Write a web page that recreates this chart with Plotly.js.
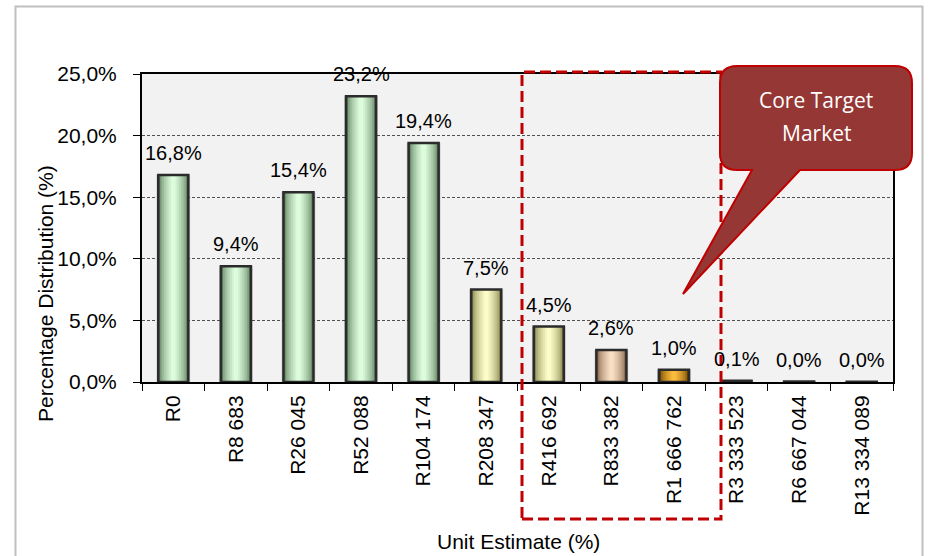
<!DOCTYPE html>
<html>
<head>
<meta charset="utf-8">
<script src="https://cdn.plot.ly/plotly-3.0.1.min.js"></script>
<style>
  html, body { margin: 0; padding: 0; background: #ffffff; }
  #chart { width: 932px; height: 556px; }
</style>
</head>
<body>
<div id="chart"></div>
<script>
// Income bands (unit estimate) and the share of units in each band, in percent
const categories = ['R0', 'R8 683', 'R26 045', 'R52 088', 'R104 174', 'R208 347',
                    'R416 692', 'R833 382', 'R1 666 762', 'R3 333 523', 'R6 667 044', 'R13 334 089'];
const shares = [16.8, 9.4, 15.4, 23.2, 19.4, 7.5, 4.5, 2.6, 1.0, 0.1, 0.04, 0.03];

// Colour family of each band
const bandTone = ['green', 'green', 'green', 'green', 'green', 'yellow',
                  'yellow', 'peach', 'orange', 'grey', 'grey', 'grey'];

// Each family: edge shade and centre shade of the cylinder look
const palettes = {
  green:  ['#5f805f', '#dcfcdc'],
  yellow: ['#84844a', '#fcfcc8'],
  peach:  ['#86644a', '#f8dec2'],
  orange: ['#6e4400', '#fbbb3c'],
  grey:   ['#383838', '#5a5a5a']
};
const LAYERS = 8;
const layerWidths = Array.from({ length: LAYERS }, (_, k) => 0.47 - k * (0.40 / (LAYERS - 1)));

function hexToRgb(h) {
  const n = parseInt(h.slice(1), 16);
  return [(n >> 16) & 255, (n >> 8) & 255, n & 255];
}
function mix(a, b, t) {
  const A = hexToRgb(a), B = hexToRgb(b);
  const c = A.map((v, i) => Math.round(v + (B[i] - v) * t));
  return 'rgb(' + c.join(',') + ')';
}

// Plot-area geometry in pixels (used for the decorations drawn in paper space)
const W = 932, H = 556;
const PL = 142, PR = 893, PT = 74, PB = 382;
const px = x => (x - PL) / (PR - PL);
const py = y => (PB - y) / (PB - PT);

const traces = [];

// soft shadow behind each bar
traces.push({
  type: 'bar', x: categories, y: shares, width: 0.54,
  marker: { color: 'rgba(0,0,0,0.16)', line: { width: 0 } },
  hoverinfo: 'skip', showlegend: false
});

// shaded body layers, widest (darkest) first
layerWidths.forEach((w, k) => {
  const t = Math.pow(k / (LAYERS - 1), 0.6);
  traces.push({
    type: 'bar', x: categories, y: shares, width: w,
    marker: {
      color: categories.map((c, i) => mix(palettes[bandTone[i]][0], palettes[bandTone[i]][1], t)),
      line: { width: 0 }
    },
    hoverinfo: 'skip', showlegend: false
  });
});

// dark outline on top
traces.push({
  type: 'bar', x: categories, y: shares, width: 0.48,
  marker: { color: 'rgba(0,0,0,0)', line: { color: '#2b2b2b', width: 2.5 } },
  hoverinfo: 'skip', showlegend: false
});

const fmtPct = v => v.toFixed(1).replace('.', ',') + '%';

// value labels above the bars
const valueLabels = categories.map((c, i) => ({
  xref: 'x', yref: 'y', x: c, y: shares[i],
  text: fmtPct(shares[i]), showarrow: false,
  yanchor: 'bottom', yshift: 9,
  font: { family: 'Liberation Sans, Arial, sans-serif', size: 20, color: '#000000' }
}));

// callout bubble outline (rounded box with a pointer), built in pixel space
const calloutPts = [
  ['M', 737, 66], ['L', 895, 66], ['Q', 912, 66, 912, 83], ['L', 912, 153],
  ['Q', 912, 170, 895, 170], ['L', 800, 170], ['L', 683, 294], ['L', 752, 170],
  ['L', 737, 170], ['Q', 720, 170, 720, 153], ['L', 720, 83], ['Q', 720, 66, 737, 66]
];
const calloutPath = calloutPts.map(p => {
  const cmd = p[0];
  const nums = [];
  for (let j = 1; j < p.length; j += 2) nums.push(px(p[j]) + ',' + py(p[j + 1]));
  return cmd + nums.join(' ');
}).join(' ') + ' Z';

const shapes = [
  // outer frame of the chart
  { type: 'rect', xref: 'paper', yref: 'paper',
    x0: px(15.5), x1: px(922.5), y0: py(575), y1: py(6.5),
    line: { color: '#bfbfbf', width: 2 }, fillcolor: 'rgba(0,0,0,0)', layer: 'below' },
  // dashed box around the core bands
  { type: 'rect', xref: 'paper', yref: 'paper',
    x0: px(522), x1: px(721), y0: py(519), y1: py(72),
    line: { color: '#c00000', width: 3, dash: '11px,5px' }, fillcolor: 'rgba(0,0,0,0)', layer: 'above' },
  // callout bubble
  { type: 'path', xref: 'paper', yref: 'paper', path: calloutPath,
    fillcolor: '#953735', line: { color: '#c00000', width: 2 }, layer: 'above' }
];

const annotations = valueLabels.concat([
  { xref: 'paper', yref: 'paper', x: px(518), y: py(541),
    text: 'Unit Estimate (%)', showarrow: false, xanchor: 'center', yanchor: 'middle',
    font: { family: 'Liberation Sans, Arial, sans-serif', size: 21, color: '#000000' } },
  { xref: 'paper', yref: 'paper', x: px(45), y: py(293),
    text: 'Percentage Distribution (%)', textangle: -90, showarrow: false,
    xanchor: 'center', yanchor: 'middle',
    font: { family: 'Liberation Sans, Arial, sans-serif', size: 21, color: '#000000' } },
  { xref: 'paper', yref: 'paper', x: px(816), y: py(100),
    text: 'Core Target', showarrow: false, xanchor: 'center', yanchor: 'middle',
    font: { family: 'Open Sans, Noto Sans, sans-serif', size: 21, color: '#ffffff' } },
  { xref: 'paper', yref: 'paper', x: px(816), y: py(133),
    text: 'Market', showarrow: false, xanchor: 'center', yanchor: 'middle',
    font: { family: 'Open Sans, Noto Sans, sans-serif', size: 21, color: '#ffffff' } }
]);

const layout = {
  width: W, height: H,
  margin: { l: PL, r: W - PR, t: PT, b: H - PB, pad: 0 },
  paper_bgcolor: '#ffffff',
  plot_bgcolor: '#f2f2f2',
  barmode: 'overlay',
  separators: ',.',
  showlegend: false,
  xaxis: {
    type: 'category',
    tickangle: -90,
    tickson: 'boundaries',
    ticks: 'outside', ticklen: 7, tickwidth: 1, tickcolor: '#000000',
    showline: true, linecolor: '#000000', linewidth: 2, mirror: true,
    showgrid: false, zeroline: false,
    tickfont: { family: 'Liberation Sans, Arial, sans-serif', size: 21, color: '#000000' },
    ticklabelstandoff: 3,
    fixedrange: true
  },
  yaxis: {
    range: [0, 25], dtick: 5, tick0: 0,
    tickformat: '.1f', ticksuffix: '%',
    ticks: 'outside', ticklen: 7, tickwidth: 1, tickcolor: '#000000',
    showline: true, linecolor: '#000000', linewidth: 2, mirror: true,
    showgrid: true, gridcolor: '#505050', gridwidth: 1, griddash: '3px,2px',
    zeroline: false,
    tickfont: { family: 'Liberation Sans, Arial, sans-serif', size: 21, color: '#000000' },
    ticklabelstandoff: 12,
    fixedrange: true
  },
  shapes: shapes,
  annotations: annotations
};

Plotly.newPlot('chart', traces, layout, { displayModeBar: false, staticPlot: true });
</script>
</body>
</html>
